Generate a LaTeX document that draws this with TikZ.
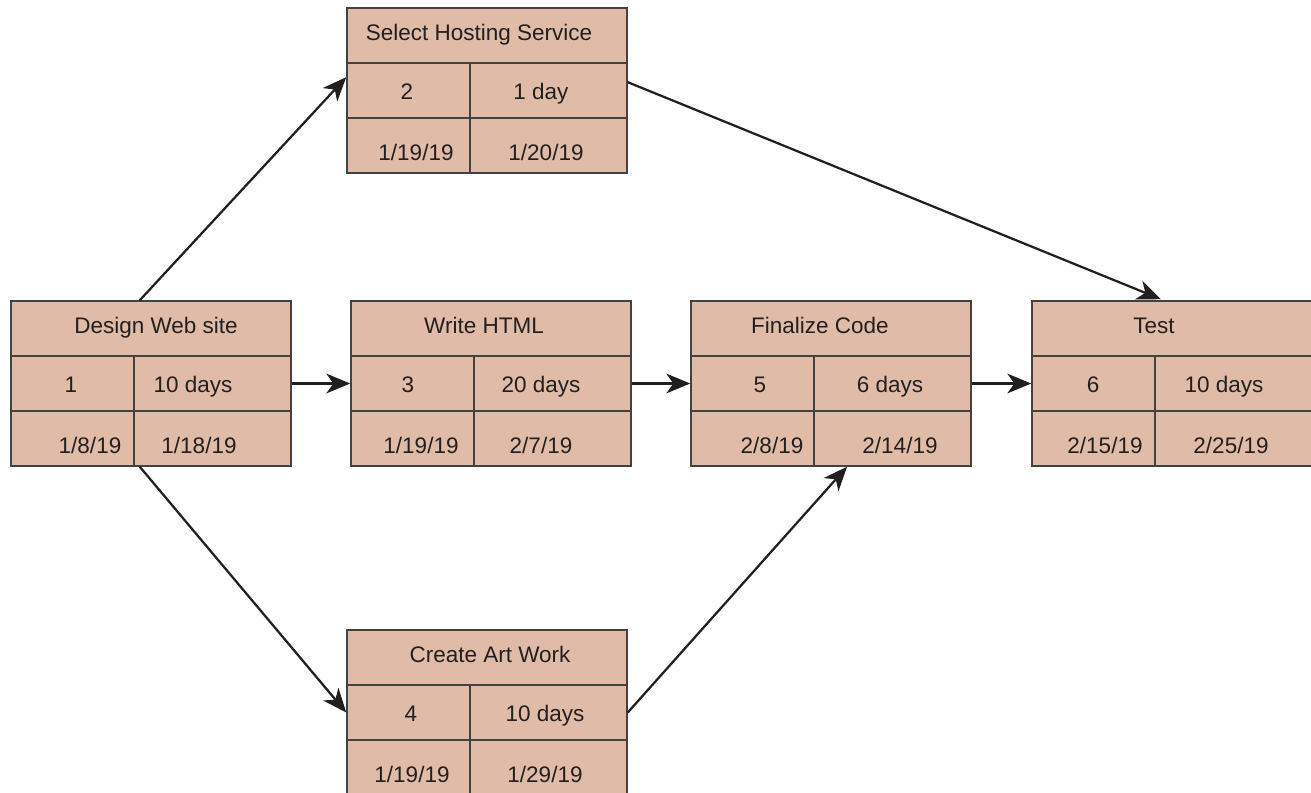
\documentclass[tikz,border=0pt]{standalone}
\usepackage{fontspec}
\setmainfont{Liberation Sans}
\usetikzlibrary{arrows.meta,calc}
\definecolor{taskfill}{RGB}{224,188,168}
\definecolor{ink}{RGB}{35,31,32}

\begin{document}
\begin{tikzpicture}[x=0.025cm,y=-0.025cm,>={Stealth[length=17pt,width=14pt,inset=5pt]},
 font=\fontsize{16}{19}\selectfont,text=ink,
 taskbox/.style={draw=ink!85,line width=1pt,fill=taskfill,minimum width=7cm,minimum height=4.125cm,inner sep=0pt},
 cell/.style={anchor=base,inner sep=0pt},
 link/.style={->,draw=ink,line width=1.6pt}]
 \useasboundingbox (0,0) rectangle (1311,792);
 \clip (0,0) rectangle (1311,792);
 % one box per task: title, number, duration, start and finish (with the x of each text)
 \foreach \n/\x/\y/\t/\i/\d/\s/\e/\tx/\ix/\dx/\sx/\ex in {
   design/11/301/{Design Web site}/1/{10 days}/{1/8/19}/{1/18/19}/145/60/182/79/188,
   select/347/8/{Select Hosting Service}/2/{1 day}/{1/19/19}/{1/20/19}/132/60/194/69/199,
   html/351/301/{Write HTML}/3/{20 days}/{1/19/19}/{2/7/19}/133/57/190/70/190,
   art/347/630/{Create Art Work}/4/{10 days}/{1/19/19}/{1/29/19}/143/64/198/65/198,
   final/691/301/{Finalize Code}/5/{6 days}/{2/8/19}/{2/14/19}/129/69/199/81/209,
   test/1032/301/{Test}/6/{10 days}/{2/15/19}/{2/25/19}/122/61/192/73/199}{
  \node[taskbox] (\n) at (\x+140,\y+82.5) {};
  \draw[ink!85,line width=1pt] (\x,\y+55) -- ++(280,0) (\x,\y+110) -- ++(280,0) (\x+123,\y+55) -- ++(0,110);
  \node[cell] (\n-t) at (\x+\tx,\y+32) {\t};
  \node[cell] (\n-i) at (\x+\ix,\y+91) {\i};
  \node[cell] (\n-d) at (\x+\dx,\y+91) {\d};
  \node[cell] (\n-s) at (\x+\sx,\y+152) {\s};
  \node[cell] (\n-e) at (\x+\ex,\y+152) {\e};
 }
 \draw[link] ($(design.north west)!0.46!(design.north east)$) -- ($(select.north west)!0.42!(select.south west)$);
 \draw[link] ($(design.south west)!0.46!(design.south east)$) -- (art.west);
 \draw[link] (design.east) -- (html.west);
 \draw[link] (html.east) -- (final.west);
 \draw[link] (final.east) -- (test.west);
 \draw[link] (art.east) -- ($(final.south west)!0.557!(final.south east)$);
 \draw[link,shorten >=2pt] ($(select.north east)!0.45!(select.south east)$) -- ($(test.north west)!0.47!(test.north east)$);
\end{tikzpicture}
\end{document}
